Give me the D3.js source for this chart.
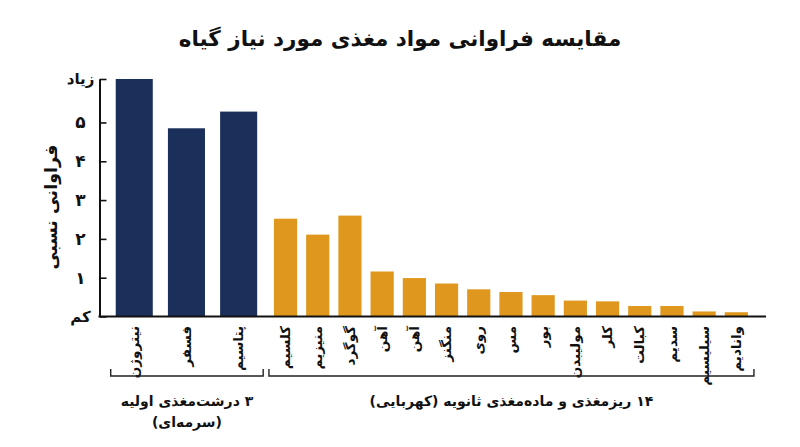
<!DOCTYPE html>
<html lang="fa">
<head>
<meta charset="utf-8">
<script src="https://cdn.jsdelivr.net/npm/d3@7"></script>
<style>
    body { margin: 0; background: #fff; }
    svg { display: block; font-family: "DejaVu Sans", sans-serif; }
</style>
</head>
<body>
<svg id="chart" width="800" height="447"></svg>
<script>
//  data
const primaryNames = ["نیتروژن", "فسفر", "پتاسیم"];
const primaryValues = [6.12, 4.85, 5.28];

const secondaryNames = ["کلسیم", "منیزیم", "گوگرد", "آهن", "آهن", "منگنز", "روی", "مس",
    "بور", "مولیبدن", "کلر", "کبالت", "سدیم", "سیلیسیم", "وانادیم"];
const secondaryValues = [2.52, 2.11, 2.60, 1.16, 0.99, 0.85, 0.70, 0.63,
    0.55, 0.41, 0.39, 0.27, 0.27, 0.13, 0.11];

const yTickValues = [0, 1, 2, 3, 4, 5, 6.12];
const yTickLabels = ["کم", "۱", "۲", "۳", "۴", "۵", "زیاد"];

const titleText = "مقایسه فراوانی مواد مغذی مورد نیاز گیاه";
const yTitle = "فراوانی نسبی";
const primaryGroupLines = ["۳ درشت\u200cمغذی اولیه", "(سرمه\u200cای)"];
const secondaryGroupLines = ["۱۴ ریزمغذی و ماده\u200cمغذی ثانویه (کهربایی)"];

const navy = "#1b2f5b";
const amber = "#df971d";

//  layout
const axisX = 99.5;
const baseY = 316.5;
const topY = 79;
const axisRight = 766;
const labelTop = 326;
const bracketY = 376;

const RLM = "\u200F";     //  keeps the parentheses in right-to-left order

const svg = d3.select("#chart");

const y = d3.scaleLinear()
    .domain([0, 6.12])
    .range([baseY, topY]);

const x1 = d3.scaleBand()
    .domain(d3.range(primaryNames.length))
    .range([107.9, 265])
    .paddingInner(0.29)
    .paddingOuter(0.15);

const x2 = d3.scaleBand()
    .domain(d3.range(secondaryNames.length))
    .range([264.3, 757.6])
    .paddingInner(0.28)
    .paddingOuter(0.3);

//  title
svg.append("text")
    .attr("x", 400)
    .attr("y", 46)
    .attr("text-anchor", "middle")
    .attr("font-size", 21.5)
    .attr("font-weight", "bold")
    .attr("fill", "#111")
    .text(titleText);

//  bars
svg.append("g")
    .selectAll("rect")
    .data(primaryValues)
    .join("rect")
    .attr("x", (d, i) => x1(i))
    .attr("width", x1.bandwidth())
    .attr("y", d => y(d))
    .attr("height", d => baseY - y(d))
    .attr("fill", navy);

svg.append("g")
    .selectAll("rect")
    .data(secondaryValues)
    .join("rect")
    .attr("x", (d, i) => x2(i))
    .attr("width", x2.bandwidth())
    .attr("y", d => y(d))
    .attr("height", d => baseY - y(d))
    .attr("fill", amber);

//  y axis, ticks point inward
const yAxis = svg.append("g")
    .attr("transform", `translate(${axisX},0)`)
    .call(d3.axisLeft(y)
        .tickValues(yTickValues)
        .tickFormat((d, i) => yTickLabels[i])
        .tickSizeInner(-7)
        .tickSizeOuter(0));

yAxis.select(".domain").attr("stroke", "#111").attr("stroke-width", 2);
yAxis.selectAll(".tick line").attr("stroke", "#111").attr("stroke-width", 1.6);
yAxis.selectAll(".tick text")
    .attr("x", -19)
    .attr("text-anchor", "middle")
    .attr("font-family", "DejaVu Sans")
    .attr("font-size", (d, i) => (i === 0 || i === yTickLabels.length - 1) ? 15 : 17)
    .attr("font-weight", "bold")
    .attr("fill", "#111");

//  baseline
svg.append("line")
    .attr("x1", axisX - 1)
    .attr("x2", axisRight)
    .attr("y1", baseY)
    .attr("y2", baseY)
    .attr("stroke", "#111")
    .attr("stroke-width", 2.2);

//  y title
svg.append("text")
    .attr("transform", "translate(52,207) rotate(-90)")
    .attr("text-anchor", "middle")
    .attr("dominant-baseline", "middle")
    .attr("font-size", 17.5)
    .attr("font-weight", "bold")
    .attr("fill", "#111")
    .text(yTitle);

//  category labels, rotated
function categoryAxis(scale, names) {
    const g = svg.append("g")
        .attr("transform", `translate(0,${labelTop})`)
        .call(d3.axisBottom(scale)
            .tickFormat(i => names[i])
            .tickSize(0)
            .tickPadding(0));
    g.select(".domain").remove();
    g.selectAll(".tick text")
        .attr("transform", "rotate(-90)")
        .attr("x", 0)
        .attr("y", 0)
        .attr("dy", "0.35em")
        .attr("text-anchor", "end")
        .attr("font-family", "DejaVu Sans")
        .attr("font-size", 13.5)
        .attr("font-weight", "bold")
        .attr("fill", "#111");
}
categoryAxis(x1, primaryNames);
categoryAxis(x2, secondaryNames);

//  group brackets, captions centred under them
function bracket(scale, n, lines) {
    const left = scale(0) - 5;
    const right = scale(n - 1) + scale.bandwidth() + 6;
    svg.append("path")
        .attr("d", `M${left},${bracketY - 7}V${bracketY}H${right}V${bracketY - 7}`)
        .attr("fill", "none")
        .attr("stroke", "#222")
        .attr("stroke-width", 1.4);
    svg.append("g")
        .selectAll("text")
        .data(lines)
        .join("text")
        .attr("x", (left + right) / 2)
        .attr("y", (d, i) => 406 + i * 21)
        .attr("text-anchor", "middle")
        .attr("font-size", 14)
        .attr("font-weight", "bold")
        .attr("fill", "#111")
        .text(d => RLM + d + RLM);
}
bracket(x1, primaryNames.length, primaryGroupLines);
bracket(x2, secondaryNames.length, secondaryGroupLines);
</script>
</body>
</html>
